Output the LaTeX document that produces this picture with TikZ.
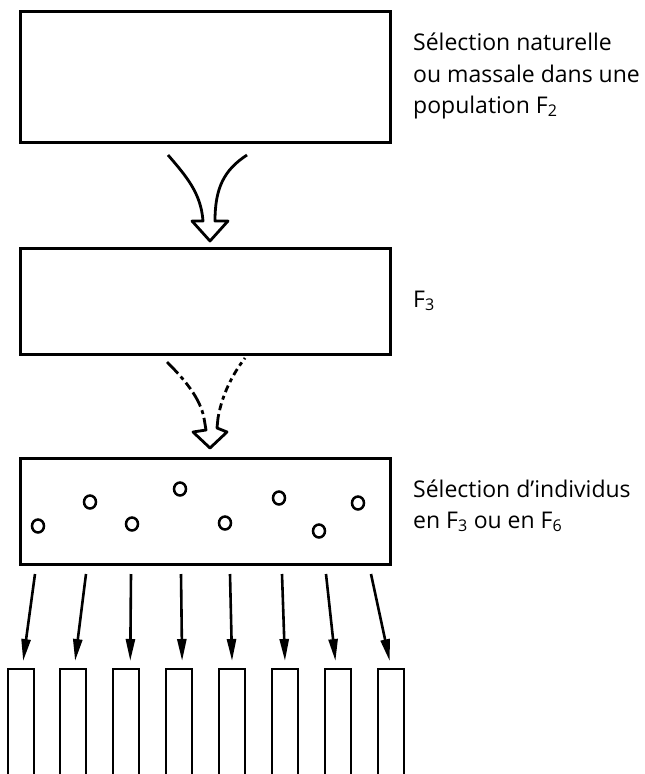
\documentclass[tikz,border=0pt]{standalone}
\usepackage{fontspec}
\setmainfont{Open Sans}
\usetikzlibrary{arrows.meta,calc,shapes.geometric}
\begin{document}
\begin{tikzpicture}[x=1pt,y=-1pt,
  bigbox/.style={draw,line width=2.8pt,minimum width=370pt,inner sep=0pt,anchor=north west},
  colbox/.style={draw,line width=2.4pt,minimum width=26pt,minimum height=120pt,inner sep=0pt,anchor=north west},
  seed/.style={draw,ellipse,line width=2.5pt,minimum width=12pt,minimum height=13pt,inner sep=0pt},
  lbl/.style={anchor=base west,align=left,font=\fontsize{23}{32}\selectfont,inner sep=0pt},
  pick/.style={line width=2.6pt,-{Triangle[length=22pt,width=9pt]},shorten >=7pt},
  hollow/.style={line width=2.8pt,line join=round}]
\useasboundingbox (0,0) rectangle (645,774);
\clip (0,0) rectangle (645,774);
% main boxes
\node[bigbox,minimum height=131pt] (b1) at (19,10) {};
\node[bigbox,minimum height=106pt] (b2) at (19,247) {};
\node[bigbox,minimum height=106pt] (b3) at (19,457) {};
% labels
\node[lbl] (t1a) at (413,50) {Sélection naturelle};
\node[lbl] (t1b) at (413,82) {ou massale dans une};
\node[lbl] (t1c) at (413,113) {population F\textsubscript{2}};
\node[lbl] (t2) at (413,307) {F\textsubscript{3}};
\node[lbl] (t3a) at (413,497) {Sélection d’individus};
\node[lbl] (t3b) at (413,528) {en F\textsubscript{3} ou en F\textsubscript{6}};
% seeds
\node[seed] (c1) at (38,526) {};
\node[seed] (c2) at (90,502) {};
\node[seed] (c3) at (132,524) {};
\node[seed] (c4) at (180,489) {};
\node[seed] (c5) at (225,523) {};
\node[seed] (c6) at (279,498) {};
\node[seed] (c7) at (319,531) {};
\node[seed] (c8) at (358,503) {};
% bottom columns
\foreach \i/\x in {1/7,2/59,3/112,4/165,5/218,6/271,7/324,8/377}{
  \node[colbox] (s\i) at (\x,668) {};
}
% arrows to columns
\foreach \i/\x in {1/35,2/86,3/131,4/181,5/230,6/282,7/326,8/371}{
  \coordinate (a\i) at (\x,574);
}
\draw[pick] (a1) -- ($(s1.north)+(1,0)$);
\draw[pick] (a2) -- ($(s2.north)+(1,0)$);
\draw[pick] (a3) -- ($(s3.north)+(4,0)$);
\draw[pick] (a4) -- ($(s4.north)+(3,0)$);
\draw[pick] (a5) -- ($(s5.north)+(0,0)$);
\draw[pick] (a6) -- ($(s6.north)+(0,0)$);
\draw[pick] (a7) -- ($(s7.north)+(-2,0)$);
\draw[pick] (a8) -- ($(s8.north)+(0,0)$);
% hollow arrow 1
\draw[hollow] (168,155) .. controls (186,176) and (201,193) .. (203,221)
  -- (192,221) -- (210,241) -- (228,221) -- (215,221)
  .. controls (215,188) and (224,170) .. (247,155);
% dashed hollow arrow 2
\draw[line width=2.8pt,dash pattern=on 16pt off 4pt on 4pt off 4pt on 8pt off 4pt] (167,362) .. controls (185,380) and (200,398) .. (204,418);
\draw[line width=2.8pt,dash pattern=on 4pt off 4pt on 7pt off 4pt] (218,418) .. controls (222,395) and (232,375) .. (245,358);
\draw[hollow] (204,418) -- (206,430) -- (193,432) -- (210,448) -- (227,432) -- (217,428) -- (218,418);
\end{tikzpicture}
\end{document}
